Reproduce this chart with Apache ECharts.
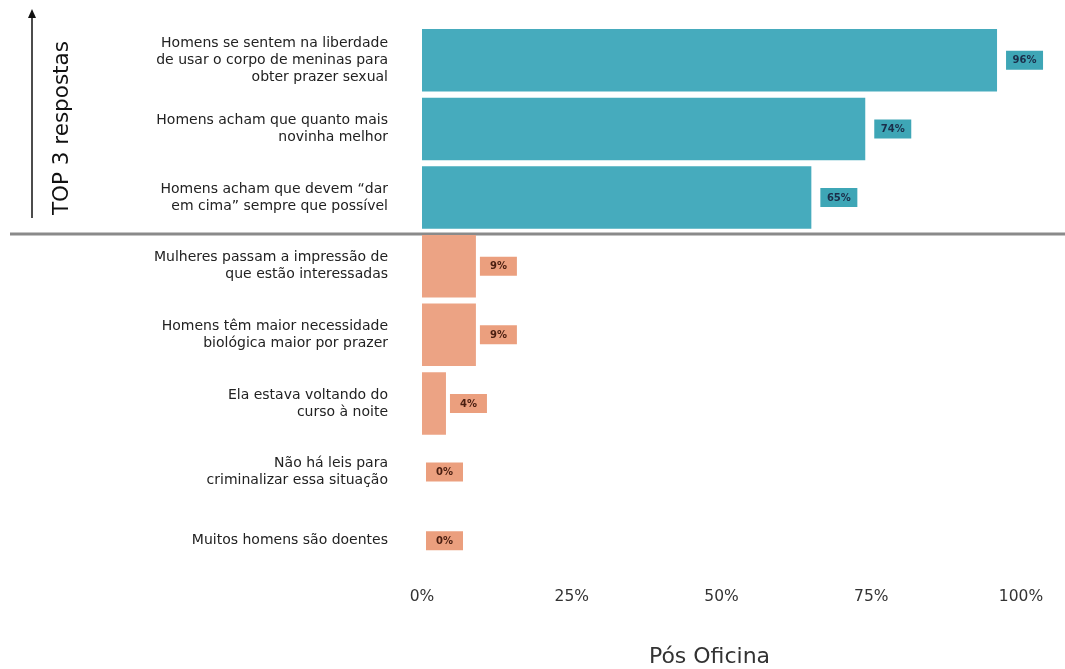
<!DOCTYPE html>
<html><head><meta charset="utf-8">
<script src="https://cdn.jsdelivr.net/npm/echarts@6/dist/echarts.min.js"></script>
<style>html,body{margin:0;padding:0;background:#fff}#c{width:1065px;height:669px}</style>
</head><body><div id="c"></div>
<script>
const categories = [
  "Homens se sentem na liberdade\nde usar o corpo de meninas para\nobter prazer sexual",
  "Homens acham que quanto mais\nnovinha melhor",
  "Homens acham que devem “dar\nem cima” sempre que possível",
  "Mulheres passam a impressão de\nque estão interessadas",
  "Homens têm maior necessidade\nbiológica maior por prazer",
  "Ela estava voltando do\ncurso à noite",
  "Não há leis para\ncriminalizar essa situação",
  "Muitos homens são doentes"
];
const values = [96, 74, 65, 9, 9, 4, 0, 0];
const isTop = [true, true, true, false, false, false, false, false];
const xTicks = [0, 25, 50, 75, 100];
const axisName = "Pós Oficina";
const sideTitle = "TOP 3 respostas";

const TEAL = '#46abbd', TEAL_TAG = '#3ea6b6', TEAL_TXT = '#1b2e4a';
const ORANGE = '#eca384', ORANGE_TAG = '#eb9f7e', ORANGE_TXT = '#4a1e10';
const FONT = '"DejaVu Sans", Inter, sans-serif';

const chart = echarts.init(document.getElementById('c'));
const data = values.map((v, i) => ({
  value: v,
  itemStyle: { color: isTop[i] ? TEAL : ORANGE },
  label: {
    backgroundColor: isTop[i] ? TEAL_TAG : ORANGE_TAG,
    distance: isTop[i] ? 9 : 4,
    rich: { t: { color: isTop[i] ? TEAL_TXT : ORANGE_TXT, width: 25, align: 'center',
      fontSize: 10, fontWeight: 'bold', fontFamily: FONT } }
  }
}));

chart.setOption({
  animation: false,
  grid: { left: 422, right: 44, top: 26, bottom: 94, outerBoundsMode: 'none', containLabel: false },
  xAxis: {
    type: 'value', min: 0, max: 100, interval: 25,
    axisLine: { show: false }, axisTick: { show: false }, splitLine: { show: false },
    axisLabel: { formatter: v => xTicks.includes(v) ? v + '%' : '', margin: 14,
      fontSize: 15.5, color: '#333', fontFamily: FONT },
    name: axisName, nameLocation: 'middle', nameGap: 71,
    nameTextStyle: { fontSize: 22, color: '#333', fontFamily: FONT, padding: [0, 24, 0, 0] }
  },
  yAxis: {
    type: 'category', data: categories, inverse: true,
    axisLine: { show: false }, axisTick: { show: false },
    axisLabel: { margin: 34, fontSize: 14, lineHeight: 17, color: '#222', fontFamily: FONT, align: 'right' }
  },
  series: [{
    type: 'bar', data: data, barCategoryGap: '9%',
    label: {
      show: true, position: 'right', formatter: '{t|{c}%}',
      fontSize: 10, fontWeight: 'bold', fontFamily: FONT,
      padding: [5, 6, 4, 6]
    }
  }]
});

function drawDecor() {
  const y3 = chart.convertToPixel({ yAxisIndex: 0 }, 2);
  const y4 = chart.convertToPixel({ yAxisIndex: 0 }, 3);
  const divY = (y3 + y4) / 2 + 2;
  const yTop = chart.convertToPixel({ yAxisIndex: 0 }, 0);
  chart.setOption({
    graphic: [
      { type: 'line', shape: { x1: 10, y1: divY, x2: 1065, y2: divY },
        style: { stroke: '#8a8a8a', lineWidth: 3 } },
      { type: 'line', shape: { x1: 32, y1: divY - 16, x2: 32, y2: 16 },
        style: { stroke: '#111', lineWidth: 1.5 } },
      { type: 'polygon', shape: { points: [[28, 18], [36, 18], [32, 9]] },
        style: { fill: '#111' } },
      { type: 'text', x: 62, y: (divY - 20 + yTop - 20) / 2 + 1, rotation: Math.PI / 2,
        style: { text: sideTitle, fontSize: 21.5, fill: '#111', fontFamily: FONT,
          align: 'center', verticalAlign: 'middle' } }
    ]
  });
}
drawDecor();
</script>
</body></html>
